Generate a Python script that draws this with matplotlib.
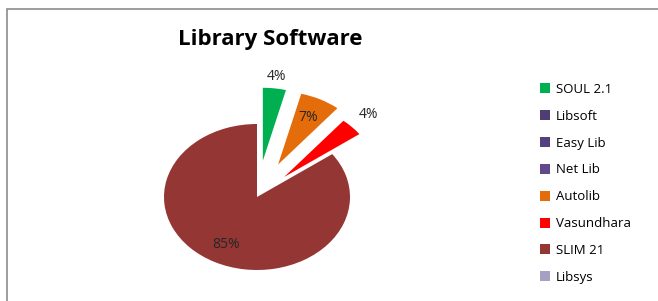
import numpy as np
import matplotlib.pyplot as plt
from matplotlib.patches import Rectangle, Patch

# Data
software = ['SOUL 2.1', 'Libsoft', 'Easy Lib', 'Net Lib', 'Autolib',
            'Vasundhara', 'SLIM 21', 'Libsys']
share = [4, 0, 0, 0, 7, 4, 85, 0]
colors = ['#00B050', '#4F3D74', '#554080', '#60498C', '#E46C0A',
          '#FF0000', '#943634', '#A8A0C4']
explode = [0.5, 0, 0, 0, 0.5, 0.4, 0, 0]
# where each percentage label sits, as fraction of radius from its wedge centre
label_dist = [1.16, 0, 0, 0, 0.72, 1.25, 0.73, 0]

W, H = 658, 301
fig = plt.figure(figsize=(W / 100, H / 100), dpi=100)
fig.patch.set_facecolor('white')

# outer chart frame (cut at right/bottom like the screenshot)
fig.patches.append(Rectangle((7 / W, -0.05), 1.2, (H - 9) / H + 0.05,
                             transform=fig.transFigure, fill=False,
                             edgecolor='#8c8c8c', linewidth=1.2))

# pie axes: centre at (257, 197) px from top, rx=93 px, ry=73 px
rx, ry = 93, 73
cx, cy = 257, H - 197
x0, x1 = -2.0, 2.0
y0, y1 = -1.4, 2.4
ax = fig.add_axes([(cx + x0 * rx) / W, (cy + y0 * ry) / H,
                   (x1 - x0) * rx / W, (y1 - y0) * ry / H])

wedges, _ = ax.pie(share, colors=colors, explode=explode, startangle=90,
                   counterclock=False, radius=1.0,
                   wedgeprops=dict(linewidth=0))
ax.set_aspect('auto')
ax.set_xlim(x0, x1)
ax.set_ylim(y0, y1)
ax.axis('off')

for w, val, d in zip(wedges, share, label_dist):
    if val == 0:
        continue
    ang = np.deg2rad((w.theta1 + w.theta2) / 2)
    cxw, cyw = w.center
    ax.text(cxw + d * np.cos(ang), cyw + d * np.sin(ang), f'{val}%',
            ha='center', va='center', fontsize=10,
            family='Open Sans', color='#262626')

fig.text(270 / W, 1 - 40 / H, 'Library Software', ha='center', va='center',
         fontsize=16, fontweight='bold', family='Open Sans', color='black')

handles = [Patch(facecolor=c, edgecolor='none') for c in colors]
fig.legend(handles, software, loc='upper left',
           bbox_to_anchor=(528 / W, 1 - 71 / H), frameon=False,
           handlelength=0.8, handleheight=0.8,
           handletextpad=0.4, labelspacing=1.05,
           prop=dict(family='Open Sans', size=9.5))

fig.savefig('out.png', dpi=100)
